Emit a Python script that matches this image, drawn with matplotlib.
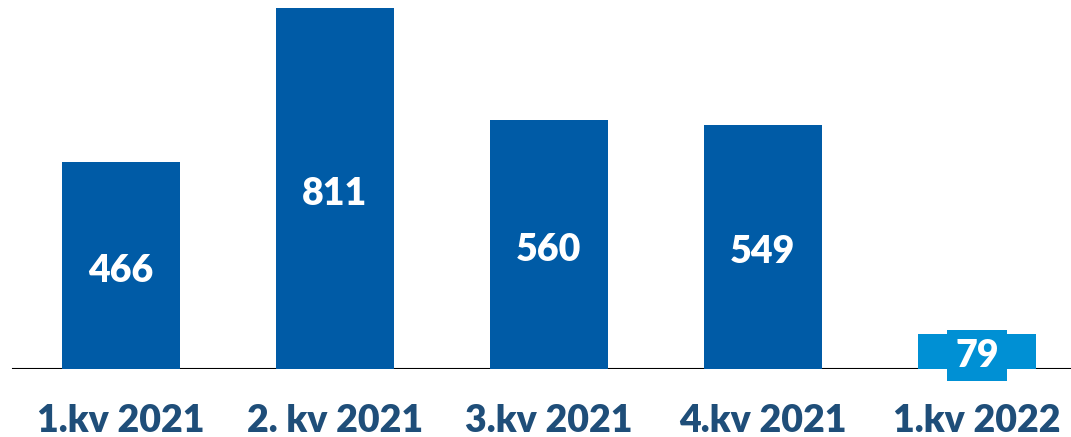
import matplotlib
matplotlib.use("Agg")
import matplotlib.pyplot as plt

categories = ["1.kv 2021", "2. kv 2021", "3.kv 2021", "4.kv 2021", "1.kv 2022"]
values = [466, 811, 560, 549, 79]
colors = ["#005BA6", "#005BA6", "#005BA6", "#005BA6", "#0090D4"]

plt.rcParams['font.family'] = ['Lato', 'DejaVu Sans']

fig = plt.figure(figsize=(10.71, 4.37), dpi=100)
ax = fig.add_axes([0, (437-369)/437, 1, 369/437])
x = list(range(len(values)))
bars = ax.bar(x, values, width=0.551, color=colors, zorder=2)
ax.set_xlim(-0.565, 4.44)
ax.set_ylim(0, 829)
for s in ["top", "right", "left", "bottom"]:
    ax.spines[s].set_visible(False)
ax.axhline(0, xmin=13/1071, xmax=1, color="black", linewidth=1.5, zorder=1)
ax.set_yticks([])
ax.set_xticks(x)
ax.set_xticklabels(categories, fontsize=27, fontweight="heavy", color="#1F4E79")
ax.tick_params(axis="x", length=0, pad=25)

for i, (xi, v) in enumerate(zip(x, values)):
    kw = dict(ha="center", va="center", fontsize=27, fontweight="heavy",
              color="white", textcoords="offset points")
    if i == len(values) - 1:
        ax.annotate(str(v), (xi, v / 2), xytext=(0, -3), zorder=4,
                    bbox=dict(boxstyle="square,pad=0.22", facecolor=colors[i], edgecolor="none"),
                    **kw)
    else:
        ax.annotate(str(v), (xi, v / 2), xytext=(0, -4), zorder=3, **kw)

fig.savefig("out.png", dpi=100)
